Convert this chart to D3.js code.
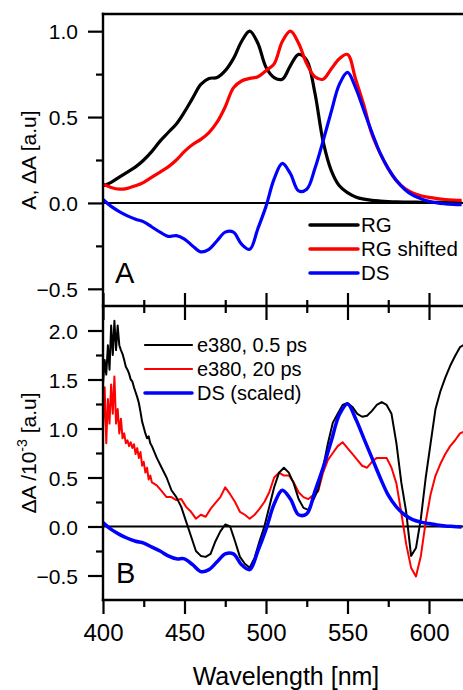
<!DOCTYPE html>
<html>
<head>
<meta charset="utf-8">
<script src="https://cdn.jsdelivr.net/npm/d3@7"></script>
<style>
  body { margin: 0; background: #fff; }
  svg { font-family: "Liberation Sans", Arial, sans-serif; }
</style>
</head>
<body>
<div id="main"></div>
<script>
// ---- data ----
// panel A : smooth spectra on a 5 nm grid
var wlA = [400,405,410,415,420,425,430,435,440,445,450,455,460,465,470,475,480,485,490,495,
           500,505,510,515,520,525,530,535,540,545,550,555,560,565,570,575,580,585,590,595,
           600,605,610,615,620];
var rg = [0.10,0.12,0.15,0.18,0.21,0.25,0.30,0.36,0.41,0.46,0.53,0.61,0.69,0.725,0.73,0.77,0.84,0.94,1.00,0.93,
          0.79,0.73,0.72,0.80,0.865,0.83,0.64,0.36,0.19,0.10,0.06,0.035,0.022,0.015,0.011,0.008,0.006,0.005,0.005,0.004,
          0.004,0.004,0.004,0.004,0.004];
var rgShifted = [0.11,0.09,0.08,0.085,0.10,0.12,0.15,0.18,0.21,0.25,0.30,0.34,0.37,0.41,0.47,0.56,0.67,0.71,0.725,0.735,
                 0.77,0.81,0.94,1.00,0.93,0.81,0.735,0.72,0.78,0.84,0.865,0.72,0.57,0.40,0.29,0.20,0.13,0.085,0.058,0.042,
                 0.032,0.025,0.02,0.017,0.015];
var ds = [0.02,-0.02,-0.05,-0.075,-0.095,-0.11,-0.14,-0.17,-0.195,-0.19,-0.21,-0.25,-0.285,-0.27,-0.22,-0.17,-0.17,-0.24,-0.27,-0.15,
          -0.02,0.14,0.23,0.17,0.07,0.08,0.20,0.36,0.53,0.69,0.76,0.67,0.54,0.41,0.29,0.20,0.13,0.08,0.045,0.025,
          0.01,0.0,-0.005,-0.008,-0.01];
var dsScaled = [0.04,-0.03,-0.08,-0.12,-0.15,-0.17,-0.21,-0.25,-0.30,-0.33,-0.33,-0.39,-0.46,-0.44,-0.36,-0.28,-0.28,-0.39,-0.44,-0.25,
                -0.03,0.23,0.37,0.28,0.12,0.13,0.36,0.60,0.87,1.14,1.25,1.10,0.90,0.70,0.50,0.32,0.20,0.12,0.07,0.045,
                0.03,0.015,0.005,0.0,-0.005];

// panel B : transient spectra (noisy), 1 nm then 3 nm grid
var wlB = [400,401,402,403,404,405,406,407,408,409,410,411,412,413,414,415,416,417,418,419,420,
           421,422,423,424,425,426,427,428,429,430,433,436,439,442,445,448,451,454,457,460,
           463,466,469,472,475,478,481,484,487,490,493,496,499,502,505,508,511,514,517,520,
           523,526,529,532,535,538,541,544,547,550,553,556,559,562,565,568,571,574,577,580,
           583,586,589,592,595,598,601,604,607,610,613,616,619,622];
var e380Fast = [1.45,1.70,1.55,1.85,1.60,2.05,1.75,2.10,1.80,2.05,1.85,1.80,1.76,1.70,1.63,1.60,1.56,1.50,1.48,1.42,1.37,
                1.32,1.26,1.17,1.07,1.01,0.95,0.90,0.92,0.85,0.82,0.70,0.60,0.50,0.37,0.30,0.20,0.05,-0.10,-0.25,-0.30,
                -0.31,-0.28,-0.15,-0.05,0.02,0.00,-0.15,-0.31,-0.38,-0.42,-0.32,-0.15,0.00,0.20,0.40,0.55,0.60,0.55,0.44,0.28,
                0.19,0.17,0.27,0.38,0.60,0.85,1.06,1.15,1.24,1.26,1.22,1.15,1.12,1.13,1.18,1.24,1.27,1.24,1.15,0.85,
                0.45,0.15,-0.30,-0.22,0.08,0.50,0.85,1.20,1.38,1.52,1.64,1.74,1.83,1.86];
var e380Slow = [1.00,1.42,0.85,1.30,1.05,1.45,1.15,1.53,1.05,1.20,0.95,1.10,0.90,0.95,0.85,0.88,0.82,0.86,0.80,0.84,0.74,
                0.80,0.70,0.76,0.62,0.66,0.55,0.60,0.48,0.52,0.45,0.42,0.36,0.30,0.30,0.27,0.28,0.20,0.15,0.08,0.12,
                0.10,0.18,0.24,0.30,0.40,0.33,0.25,0.15,0.12,0.08,0.12,0.18,0.25,0.35,0.50,0.55,0.52,0.52,0.45,0.35,
                0.30,0.28,0.32,0.36,0.55,0.68,0.75,0.82,0.86,0.80,0.74,0.68,0.62,0.60,0.66,0.70,0.70,0.70,0.60,0.44,
                0.14,-0.18,-0.42,-0.51,-0.30,0.05,0.33,0.52,0.64,0.74,0.82,0.88,0.95,0.97];

var xTicks = [400,450,500,550,600];
var yTicksA = [-0.5,0.0,0.5,1.0];
var yTicksB = [-0.5,0.0,0.5,1.0,1.5,2.0];

// ---- layout ----
var W = 463, H = 690;
var left = 103, plotRight = 475;
var topA = 14, botA = 306, botB = 600;

var svg = d3.select("#main").append("svg")
    .attr("width", W)
    .attr("height", H);

var x = d3.scaleLinear().domain([400, 600]).range([left, 429]);
var yA = d3.scaleLinear().domain([-0.6, 1.1]).range([botA, topA]);
var yB = d3.scaleLinear().domain([-0.75, 2.25]).range([botB, botA]);

svg.append("clipPath").attr("id", "clipA")
  .append("rect").attr("x", left).attr("y", topA).attr("width", plotRight - left).attr("height", botA - topA);
svg.append("clipPath").attr("id", "clipB")
  .append("rect").attr("x", left).attr("y", botA).attr("width", plotRight - left).attr("height", botB - botA);

function pairs(wl, vals) { return wl.map(function(w, i) { return [w, vals[i]]; }); }

// zero lines
svg.append("line").attr("x1", left).attr("x2", plotRight).attr("y1", yA(0)).attr("y2", yA(0))
   .attr("stroke", "#000").attr("stroke-width", 2);
svg.append("line").attr("x1", left).attr("x2", plotRight).attr("y1", yB(0)).attr("y2", yB(0))
   .attr("stroke", "#000").attr("stroke-width", 2);

// panel A curves
var lineA = d3.line().x(function(d) { return x(d[0]); }).y(function(d) { return yA(d[1]); })
    .curve(d3.curveCatmullRom);
var gA = svg.append("g").attr("clip-path", "url(#clipA)");
[[rg, "#000000"], [rgShifted, "#ff0000"], [ds, "#0000ff"]].forEach(function(s) {
  gA.append("path").datum(pairs(wlA, s[0]))
    .attr("d", lineA).attr("fill", "none").attr("stroke", s[1]).attr("stroke-width", 3.2)
    .attr("stroke-linejoin", "round");
});

// panel B curves
var lineB = d3.line().x(function(d) { return x(d[0]); }).y(function(d) { return yB(d[1]); });
var gB = svg.append("g").attr("clip-path", "url(#clipB)");
gB.append("path").datum(pairs(wlB, e380Slow))
  .attr("d", lineB).attr("fill", "none").attr("stroke", "#ff0000").attr("stroke-width", 2).attr("stroke-linejoin", "round");
gB.append("path").datum(pairs(wlB, e380Fast))
  .attr("d", lineB).attr("fill", "none").attr("stroke", "#000000").attr("stroke-width", 2).attr("stroke-linejoin", "round");
gB.append("path").datum(pairs(wlA, dsScaled))
  .attr("d", lineB.curve(d3.curveCatmullRom)).attr("fill", "none").attr("stroke", "#0000ff").attr("stroke-width", 3.5);

// ---- axes ----
var minorX = [425,475,525,575,625];
// top of panel B / bottom of panel A shared line: ticks both ways
var axA = svg.append("g").attr("transform", "translate(0," + botA + ")");
axA.call(d3.axisTop(x).tickValues(xTicks).tickSize(13).tickFormat(""));
axA.append("g").call(d3.axisTop(x).tickValues(minorX).tickSize(6).tickFormat(""));
axA.append("g").call(d3.axisBottom(x).tickValues(xTicks).tickSize(14).tickFormat(""));
axA.append("g").call(d3.axisBottom(x).tickValues(minorX).tickSize(7).tickFormat(""));

var axB = svg.append("g").attr("transform", "translate(0," + botB + ")");
axB.call(d3.axisBottom(x).tickValues(xTicks).tickSize(14).tickPadding(10).tickFormat(d3.format("d")));
axB.append("g").call(d3.axisBottom(x).tickValues(minorX).tickSize(7).tickFormat(""));
axB.selectAll("text").attr("font-size", 24).attr("fill", "#000").attr("font-family", "Liberation Sans, Arial, sans-serif");

var fmt = d3.format(".1f");
var ayA = svg.append("g").attr("transform", "translate(" + left + ",0)");
ayA.call(d3.axisLeft(yA).tickValues(yTicksA).tickSize(15).tickPadding(10).tickFormat(fmt));
ayA.append("g").call(d3.axisLeft(yA).tickValues([-0.25,0.25,0.75]).tickSize(7).tickFormat(""));
var ayB = svg.append("g").attr("transform", "translate(" + left + ",0)");
ayB.call(d3.axisLeft(yB).tickValues(yTicksB).tickSize(15).tickPadding(10).tickFormat(fmt));
ayB.append("g").call(d3.axisLeft(yB).tickValues([-0.25,0.25,0.75,1.25,1.75]).tickSize(7).tickFormat(""));
svg.selectAll(".tick text").attr("fill", "#000").attr("font-family", "Liberation Sans, Arial, sans-serif");
ayA.selectAll("text").attr("font-size", 21).attr("dy", "0.36em");
ayB.selectAll("text").attr("font-size", 21).attr("dy", "0.36em");

svg.selectAll(".domain").remove();
svg.selectAll(".tick line").attr("stroke", "#000").attr("stroke-width", 2.2);

// frame lines
[[left, topA, plotRight, topA], [left, botA, plotRight, botA], [left, botB, plotRight, botB], [left, topA, left, botB]]
  .forEach(function(l) {
    svg.append("line").attr("x1", l[0]).attr("y1", l[1]).attr("x2", l[2]).attr("y2", l[3])
      .attr("stroke", "#000").attr("stroke-width", 2.4).attr("stroke-linecap", "square");
  });

// axis titles
svg.append("text").attr("transform", "translate(36,160) rotate(-90)")
  .attr("text-anchor", "middle").attr("font-size", 21).text("A, \u0394A [a.u]");
var tB = svg.append("text").attr("transform", "translate(36,453) rotate(-90)")
  .attr("text-anchor", "middle").attr("font-size", 21);
tB.append("tspan").text("\u0394A /10");
tB.append("tspan").attr("font-size", 14).attr("dy", -9).text("-3");
tB.append("tspan").attr("dy", 9).text(" [a.u]");

svg.append("text").attr("x", 286).attr("y", 685).attr("text-anchor", "middle")
  .attr("font-size", 25).text("Wavelength [nm]");

// panel letters
svg.append("text").attr("x", 115).attr("y", 283).attr("font-size", 29).text("A");
svg.append("text").attr("x", 116).attr("y", 583).attr("font-size", 29).text("B");

// legends
var legA = [["RG", "#000000", 3.5], ["RG shifted", "#ff0000", 3.5], ["DS", "#0000ff", 3.5]];
legA.forEach(function(d, i) {
  var yy = 225 + i * 24;
  svg.append("line").attr("x1", 310).attr("x2", 358).attr("y1", yy).attr("y2", yy)
    .attr("stroke", d[1]).attr("stroke-width", d[2]).attr("stroke-linecap", "round");
  svg.append("text").attr("x", 361).attr("y", yy).attr("dy", "0.36em").attr("font-size", 20.5).text(d[0]);
});
var legB = [["e380, 0.5 ps", "#000000", 2.2], ["e380, 20 ps", "#ff0000", 2.2], ["DS (scaled)", "#0000ff", 3.5]];
legB.forEach(function(d, i) {
  var yy = 345 + i * 24;
  svg.append("line").attr("x1", 145).attr("x2", 192).attr("y1", yy).attr("y2", yy)
    .attr("stroke", d[1]).attr("stroke-width", d[2]).attr("stroke-linecap", "round");
  svg.append("text").attr("x", 197).attr("y", yy).attr("dy", "0.36em").attr("font-size", 20).text(d[0]);
});
</script>
</body>
</html>
